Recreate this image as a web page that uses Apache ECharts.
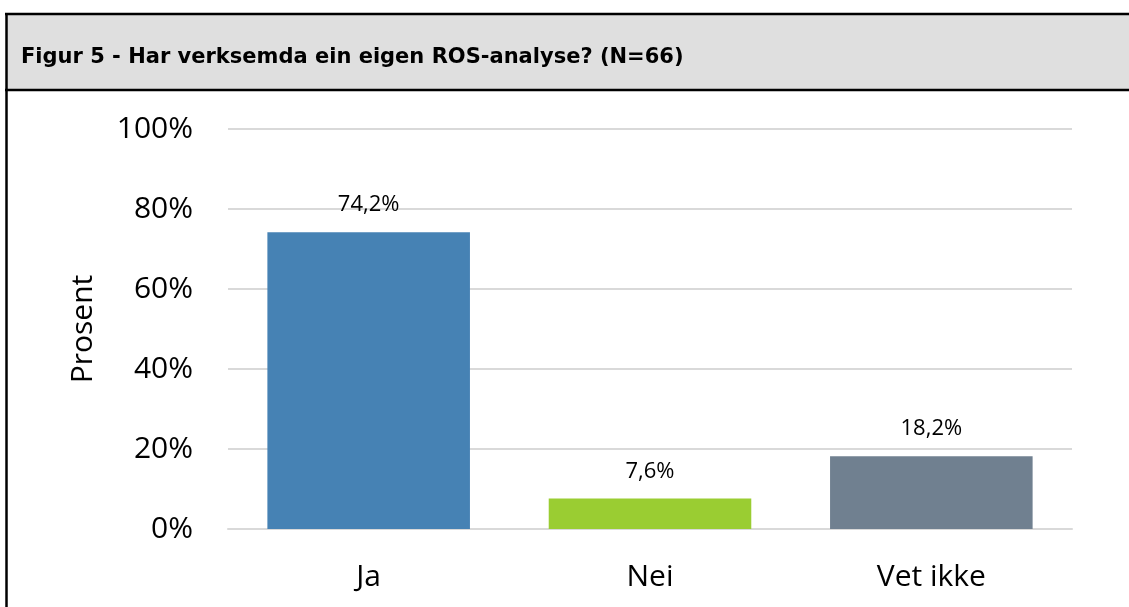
<!DOCTYPE html>
<html>
<head>
<meta charset="utf-8">
<script src="https://cdn.jsdelivr.net/npm/echarts@6/dist/echarts.min.js"></script>
<style>
  html, body { margin: 0; padding: 0; background: #fff; }
  #main { width: 1129px; height: 607px; }
</style>
</head>
<body>
<div id="main"></div>
<script>
// kategoriar og verdiar (prosent)
var categories = ['Ja', 'Nei', 'Vet ikke'];
var values = [74.2, 7.6, 18.2];
var barColors = ['#4682b4', '#9acd32', '#708090'];
var titleText = 'Figur 5 - Har verksemda ein eigen ROS-analyse? (N=66)';

var myChart = echarts.init(document.getElementById('main'));

var option = {
    backgroundColor: '#fff',
    animation: false,
    title: {
        text: titleText,
        left: 16,
        top: 42,
        textStyle: {
            fontFamily: '"DejaVu Sans", Verdana, sans-serif',
            fontWeight: 'bold',
            fontSize: 21,
            color: '#000'
        }
    },
    graphic: [
        // grå topptekst
        { type: 'rect', z: -1, shape: { x: 6, y: 14, width: 1130, height: 76 }, style: { fill: '#dfdfdf' } },
        { type: 'line', shape: { x1: 5, y1: 14, x2: 1129, y2: 14 }, style: { stroke: '#000', lineWidth: 2.5 } },
        { type: 'line', shape: { x1: 5, y1: 90, x2: 1129, y2: 90 }, style: { stroke: '#000', lineWidth: 2.5 } },
        { type: 'line', shape: { x1: 6.5, y1: 13, x2: 6.5, y2: 607 }, style: { stroke: '#000', lineWidth: 2.5 } }
    ],
    grid: {
        left: 228,
        right: 57,
        top: 129,
        bottom: 78
    },
    xAxis: {
        type: 'category',
        data: categories,
        axisTick: { show: false },
        axisLine: { show: true, lineStyle: { color: '#d9d9d9', width: 2 } },
        axisLabel: {
            margin: 33,
            fontFamily: 'Open Sans',
            fontSize: 30,
            color: '#000'
        }
    },
    yAxis: {
        type: 'value',
        min: 0,
        max: 100,
        interval: 20,
        name: 'Prosent',
        nameLocation: 'middle',
        nameGap: 130,
        nameTextStyle: {
            fontFamily: 'Open Sans',
            fontSize: 30,
            color: '#000'
        },
        axisLine: { show: false },
        axisTick: { show: false },
        splitLine: { lineStyle: { color: '#d9d9d9', width: 2 } },
        axisLabel: {
            margin: 35,
            fontFamily: 'Open Sans',
            fontSize: 30,
            color: '#000',
            formatter: '{value}%'
        }
    },
    series: [{
        type: 'bar',
        barWidth: '72%',
        data: values.map(function (v, i) {
            return { value: v, itemStyle: { color: barColors[i] } };
        }),
        label: {
            show: true,
            position: 'top',
            distance: 16,
            fontFamily: 'Open Sans',
            fontSize: 22,
            color: '#000',
            formatter: function (p) {
                return p.value.toFixed(1).replace('.', ',') + '%';
            }
        }
    }]
};

myChart.setOption(option);
</script>
</body>
</html>
